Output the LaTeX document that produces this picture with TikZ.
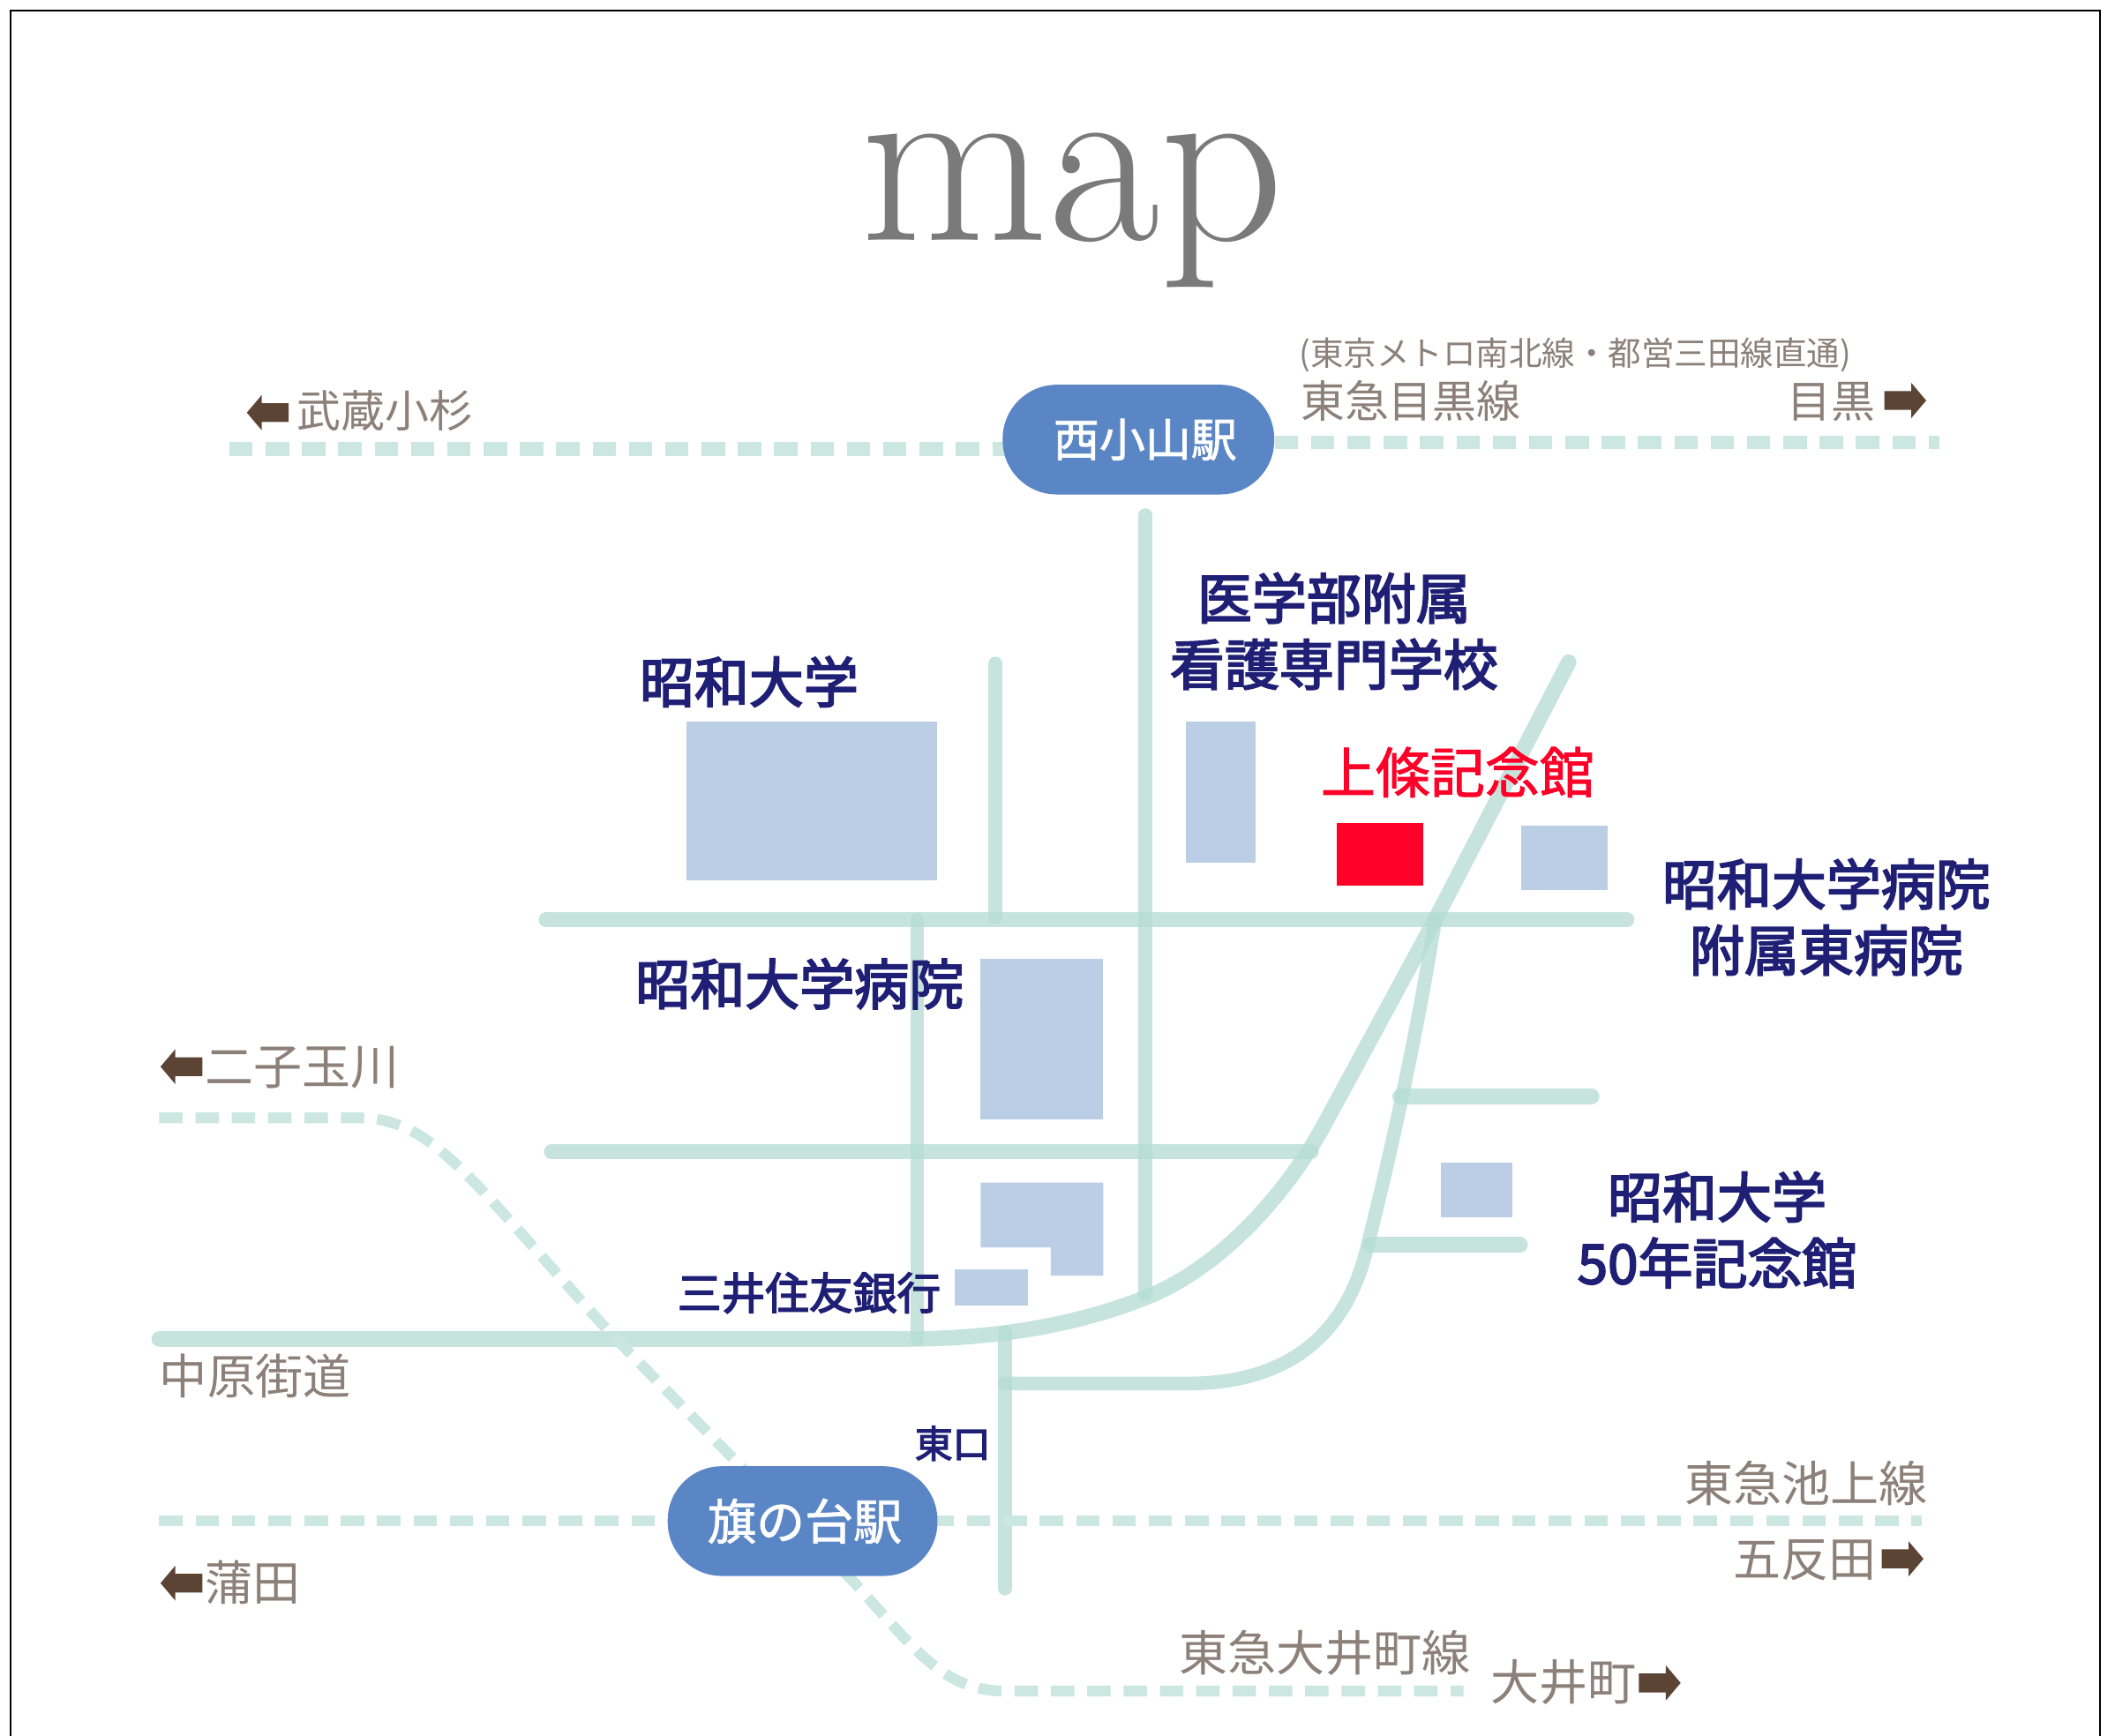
\documentclass[tikz,border=0pt]{standalone}
\usepackage{fontspec}
\newfontfamily\jp{Noto Sans CJK JP}
\newfontfamily\jpmed{Noto Sans CJK JP}[FakeBold=3]
\newfontfamily\jpthin{Noto Sans CJK JP}[FakeBold=1.5]
\newcommand\fs[1]{\fontsize{#1}{#1}\selectfont}
\definecolor{road}{HTML}{B6DDD3}
\definecolor{rail}{HTML}{CBE7E0}
\definecolor{bld}{HTML}{BCCEE6}
\definecolor{stn}{HTML}{5B86C5}
\definecolor{brownline}{HTML}{8C8079}
\definecolor{arrowc}{HTML}{5C4435}
\definecolor{navy}{HTML}{1F1F75}
\definecolor{hot}{HTML}{FF0028}
\tikzset{
  roadline/.style={draw=road,line width=7.6pt,line cap=round,line join=round,opacity=0.78},
  roadwide/.style={roadline,line width=8.6pt},
  railline/.style={draw=rail,line width=6pt,dash pattern=on 13pt off 7.2pt},
  railthick/.style={railline,line width=7.5pt},
  building/.style={fill=bld},
  station/.style={fill=stn,text=white,rounded corners=30pt,inner sep=0pt,minimum height=61pt},
  lbl/.style={inner sep=0pt,anchor=base west},
  gray lbl/.style={lbl,text=brownline},
  navy lbl/.style={lbl,text=navy,font=\jpmed\fs{30.4}},
  navy c/.style={inner sep=0pt,anchor=base,text=navy,font=\jpmed\fs{30.4}},
  blockarrow/.style={fill=arrowc}
}
\newcommand\rarrow[2]{\fill[blockarrow,shift={(#1,#2)}] (0,-7)--(20,-7)--(20,-13)--(31,0)--(20,13)--(20,7)--(0,7)--cycle;}
\newcommand\larrow[2]{\fill[blockarrow,shift={(#1,#2)}] (0,-7)--(-20,-7)--(-20,-13)--(-31,0)--(-20,13)--(-20,7)--(0,7)--cycle;}
\begin{document}
\begin{tikzpicture}[x=0.75pt,y=-0.75pt]
\useasboundingbox (0,0) rectangle (1568,1287);
\fill[white] (0,0) rectangle (1568,1287);
\begin{scope}
\clip (0,0) rectangle (1568,1287);
\draw[black,line width=1.2pt] (8,8) rectangle (1557,1310);
\end{scope}
\node[lbl,text=black!52,font=\rmfamily\fs{135}] (title) at (638,178) {map};

% roads
\draw[roadline] (849,382) -- (849,960);
\draw[roadline] (738,492) -- (738,680);
\draw[roadline] (680,682) -- (680,993);
\draw[roadwide] (405,682) -- (1206,682);
\draw[roadwide] (409,854) -- (972,854);
\draw[roadwide] (118,993) -- (670,993) .. controls (740,993) and (800,982) .. (850,962) .. controls (905,940) and (955,885) .. (985,828) -- (1064,682) -- (1163,491);
\draw[roadline] (745,988) -- (745,1178);
\draw[roadline] (745,1026) -- (880,1026) .. controls (960,1026) and (1000,985) .. (1014,923) .. controls (1030,860) and (1050,770) .. (1064,682);
\draw[roadwide] (1038,813) -- (1180,813);
\draw[roadwide] (1016,923) -- (1127,923);

% railways
\draw[railthick] (170,333) -- (745,333);
\draw[railthick] (945,328) -- (1438,328);
\draw[railline] (118,1128) -- (500,1128);
\draw[railline] (690,1128) -- (1425,1128);
\draw[railline] (118,829) -- (265,829) .. controls (320,829) and (345,870) .. (451,987) -- (631,1171) .. controls (680,1225) and (700,1254) .. (745,1254) -- (1085,1254);

% buildings
\fill[building] (509,535) rectangle (695,653);
\fill[building] (879,535) rectangle (931,640);
\fill[hot] (991,610) rectangle (1055,657);
\fill[building] (1128,612) rectangle (1192,660);
\fill[building] (727,711) rectangle (818,830);
\fill[building] (727,877) -- (818,877) -- (818,946) -- (779,946) -- (779,925) -- (727,925) -- cycle;
\fill[building] (708,941) rectangle (762,968);
\fill[building] (1068,862) rectangle (1121,903);

% stations
\node[station,minimum width=151pt,font=\jpthin\fs{25.5}] (nishikoyama) at (844,326) {\kern 7.5pt 西小山駅};
\node[station,minimum width=150pt,font=\jpthin\fs{27}] (hatanodai) at (595,1128) {\kern 2.5pt 旗の台駅};

% grey labels
\node[gray lbl,font=\jp\fs{18.4}] (via) at (963,271) {(東京メトロ南北線・都営三田線直通)};
\node[gray lbl,font=\jp\fs{24.5}] (meguroline) at (964,310) {東急目黒線};
\node[gray lbl,font=\jp\fs{24.5}] (meguro) at (1325,310) {目黒};
\rarrow{1397}{297}
\larrow{214}{306}
\node[gray lbl,font=\jp\fs{24.5}] (musashi) at (220,317) {武蔵小杉};
\larrow{150}{791}
\node[gray lbl,font=\jp\fs{27}] (futako) at (152,804) {二子玉川};
\node[gray lbl,font=\jp\fs{26.6}] (nakahara) at (118,1034) {中原街道};
\node[gray lbl,font=\jp\fs{27}] (ikegami) at (1249,1114) {東急池上線};
\node[gray lbl,font=\jp\fs{26.5}] (gotanda) at (1285,1169) {五反田};
\rarrow{1395}{1156}
\larrow{150}{1174}
\node[gray lbl,font=\jp\fs{26.5}] (kamata) at (152,1187) {蒲田};
\node[gray lbl,font=\jp\fs{27}] (oimachiline) at (874,1239) {東急大井町線};
\node[gray lbl,font=\jp\fs{27}] (oimachi) at (1105,1261) {大井町};
\rarrow{1215}{1248}

% navy labels
\node[navy c] (nurse1) at (989,459) {医学部附属};
\node[navy c] (nurse2) at (989,508) {看護専門学校};
\node[navy lbl] (showa) at (474,521) {昭和大学};
\node[lbl,text=hot,font=\jpthin\fs{30.4}] (jojo) at (979,588) {上條記念館};
\node[navy c] (east1) at (1354,671) {昭和大学病院};
\node[navy c] (east2) at (1354,720) {附属東病院};
\node[navy lbl] (hospital) at (471,745) {昭和大学病院};
\node[navy c] (fifty1) at (1273,903) {昭和大学};
\node[navy c] (fifty2) at (1273,952) {50年記念館};
\node[navy lbl,font=\jpmed\fs{24.4}] (bank) at (502,971) {三井住友銀行};
\node[navy lbl,font=\jpmed\fs{21}] (east) at (678,1081) {東口};
\end{tikzpicture}
\end{document}
